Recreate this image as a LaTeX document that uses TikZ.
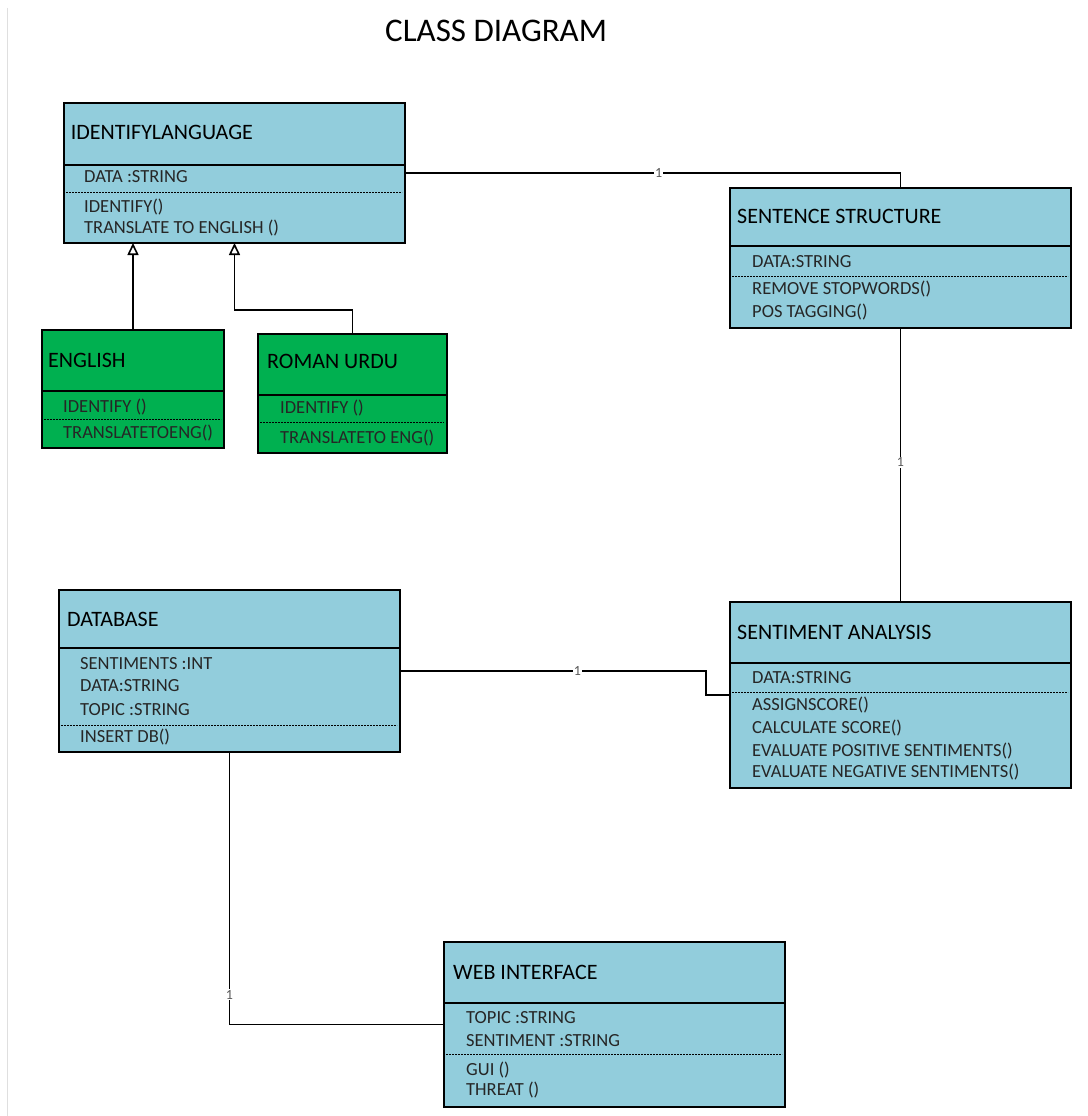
\documentclass[tikz,border=0pt]{standalone}
\usepackage{fontspec}
\setmainfont{Carlito}
\usepackage{tikz}
\usetikzlibrary{arrows.meta, calc}
\definecolor{clsblue}{HTML}{92CDDC}
\definecolor{langgreen}{HTML}{00B050}
\tikzset{
  clsbox/.style={draw=black, line width=1.5pt, fill=clsblue, inner sep=0, outer sep=0},
  langbox/.style={clsbox, fill=langgreen},
  ctitle/.style={anchor=base west, inner sep=0, font=\fontsize{22}{26}\selectfont},
  attr/.style={anchor=base west, inner sep=0, font=\fontsize{18.5}{22}\selectfont, text=black!85}
}

\begin{document}
\begin{tikzpicture}[
  x=1pt, y=-1pt,
  % solid line under the class name
  rowline/.style = {line width=1.5pt},
  % dashed line between attributes and operations
  dashline/.style= {line width=1pt, dash pattern=on 2pt off 1pt},
  % plain association
  assoc/.style   = {line width=1.8pt},
  % generalisation, open triangle at the parent
  gen/.style     = {line width=1.6pt, -{Triangle[open, length=12pt, width=11pt]}},
  % multiplicity label on a line
  mult/.style    = {font=\fontsize{14}{14}\selectfont, fill=white, inner sep=1pt, text=black!65},
]

\useasboundingbox (0,0) rectangle (1087,1116);

% ──────────────────────────
%  Helper macro: name row and member rows of one class box
%  #1 = box node, #2 = y of solid line, #3 = y of dashed line
% ──────────
\newcommand{\classrows}[3]{%
  \draw[rowline] (#1.west |- 0,#2) -- (#1.east |- 0,#2);
  \draw[dashline] ($(#1.west |- 0,#3)+(2,0)$) -- ($(#1.east |- 0,#3)+(-3,0)$);
}

% page margin line
\draw[gray!25, line width=1pt] (7,8) -- (7,1116);

\node[anchor=base west, inner sep=0, font=\fontsize{33}{38}\selectfont] (title) at (385,42) {CLASS DIAGRAM};

% ═══════════════════════════════
%  Class boxes
% ═══════════════════
\node[clsbox,  minimum width=341, minimum height=140] (idlang)  at (234.5,173)   {};
\node[langbox, minimum width=182, minimum height=118] (english) at (133,389)     {};
\node[langbox, minimum width=189, minimum height=119] (roman)   at (352.5,393.5) {};
\node[clsbox,  minimum width=341, minimum height=140] (sstruct) at (900.5,258)   {};
\node[clsbox,  minimum width=341, minimum height=186] (sentan)  at (900.5,695)   {};
\node[clsbox,  minimum width=341, minimum height=162] (db)      at (229.5,671)   {};
\node[clsbox,  minimum width=341, minimum height=165] (webif)   at (614.5,1024.5) {};

\classrows{idlang}{165}{192}
\classrows{english}{391}{419}
\classrows{roman}{395}{422}
\classrows{sstruct}{246}{276}
\classrows{sentan}{663}{692}
\classrows{db}{648}{725}
\classrows{webif}{1003}{1054}

% ═══════════════════
%  Names and members
% ═══════════
\node[ctitle] (idlang-t) at (70.7,139) {IDENTIFYLANGUAGE};
\foreach \y/\t [count=\i] in {182/DATA :STRING, 212/IDENTIFY(), 233/TRANSLATE TO ENGLISH ()}
  \node[attr] (idlang-\i) at (84,\y) {\t};

\node[ctitle] (english-t) at (48,367) {ENGLISH};
\foreach \y/\t [count=\i] in {412/IDENTIFY (), 438/TRANSLATETOENG()}
  \node[attr] (english-\i) at (63,\y) {\t};

\node[ctitle] (roman-t) at (267,368) {ROMAN URDU};
\foreach \y/\t [count=\i] in {413/IDENTIFY (), 443/TRANSLATETO ENG()}
  \node[attr] (roman-\i) at (280,\y) {\t};

\node[ctitle] (sstruct-t) at (737,223) {SENTENCE STRUCTURE};
\foreach \y/\t [count=\i] in {267/DATA:STRING, 294/REMOVE STOPWORDS(), 317/POS TAGGING()}
  \node[attr] (sstruct-\i) at (752,\y) {\t};

\node[ctitle] (sentan-t) at (737,639) {SENTIMENT ANALYSIS};
\foreach \y/\t [count=\i] in {683/DATA:STRING, 710/ASSIGNSCORE(), 733/CALCULATE SCORE(),
                              756/EVALUATE POSITIVE SENTIMENTS(), 777/EVALUATE NEGATIVE SENTIMENTS()}
  \node[attr] (sentan-\i) at (752,\y) {\t};

\node[ctitle] (db-t) at (67,626) {DATABASE};
\foreach \y/\t [count=\i] in {669/SENTIMENTS :INT, 691/DATA:STRING, 715/TOPIC :STRING, 742/INSERT DB()}
  \node[attr] (db-\i) at (80,\y) {\t};

\node[ctitle] (webif-t) at (453,979) {WEB INTERFACE};
\foreach \y/\t [count=\i] in {1023/TOPIC :STRING, 1046/SENTIMENT :STRING, 1075/GUI (), 1095/THREAT ()}
  \node[attr] (webif-\i) at (466,\y) {\t};

% ─────────────────────
%  Generalisation
% ─────────────────
\draw[gen] (english.north) -- (english.north |- idlang.south);
\draw[gen] (roman.north) -- ++(0,-24) -| (idlang.south);

% ─────────────────────
%  Associations
% ─────────────────
\draw[assoc] (idlang.east) -| (sstruct.north)
  node[mult, pos=0.256] (m1) {1};
\draw[assoc] (sstruct.south) -- (sentan.north)
  node[mult, pos=0.49] (m2) {1};
\draw[assoc] (db.east) -- node[mult, pos=0.58] (m3) {1} ++(306,0) |- (sentan.west);
\draw[assoc] (db.south) |- (webif.west)
  node[mult, pos=0.445] (m4) {1};

\end{tikzpicture}
\end{document}
